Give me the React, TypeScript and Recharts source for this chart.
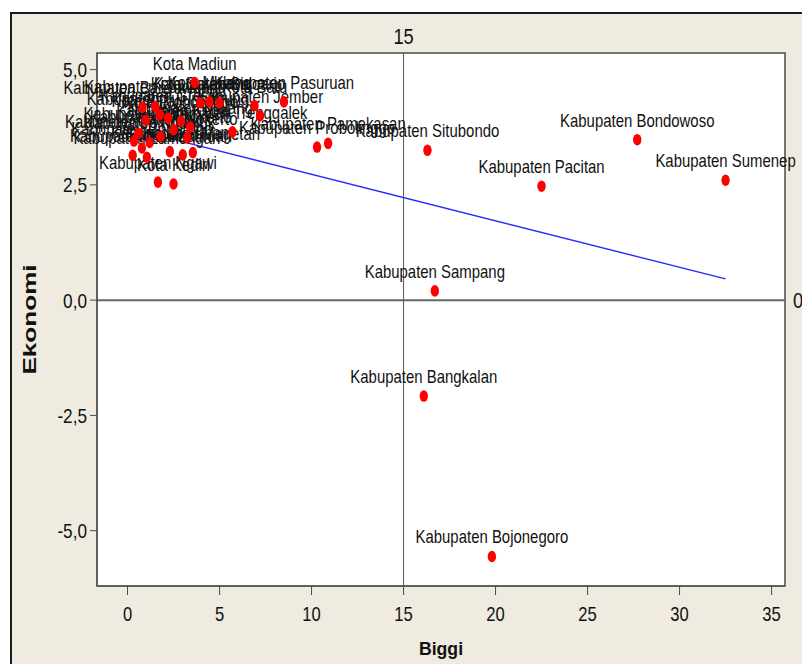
import React from "react";
import {
  ScatterChart,
  Scatter,
  XAxis,
  YAxis,
  CartesianGrid,
  ReferenceLine,
  ReferenceArea,
} from "recharts";

const regionNames = [
  "Kota Surabaya",
  "Kota Malang",
  "Kabupaten Sidoarjo",
  "Kabupaten Gresik",
  "Kabupaten Malang",
  "Kota Mojokerto",
  "Kota Blitar",
  "Kabupaten Banyuwangi",
  "Kabupaten Lumajang",
  "Kabupaten Tulungagung",
  "Kabupaten Blitar",
  "Kabupaten Kediri",
  "Kabupaten Mojokerto",
  "Kabupaten Jombang",
  "Kabupaten Nganjuk",
  "Kabupaten Madiun",
  "Kabupaten Ponorogo",
  "Kabupaten Lamongan",
  "Kabupaten Tuban",
  "Kota Pasuruan",
  "Kota Probolinggo",
  "Kota Batu",
  "Kota Madiun",
  "Kabupaten Magetan",
  "Kota Kediri",
  "Kabupaten Ngawi",
  "Kabupaten Trenggalek",
  "Kabupaten Jember",
  "Kabupaten Pasuruan",
  "Kabupaten Probolinggo",
  "Kabupaten Pamekasan",
  "Kabupaten Situbondo",
  "Kabupaten Sampang",
  "Kabupaten Bangkalan",
  "Kabupaten Bojonegoro",
  "Kabupaten Pacitan",
  "Kabupaten Bondowoso",
  "Kabupaten Sumenep",
];

const biggiValues = [
  3.95, 4.45, 5.0, 1.75, 3.4, 3.25, 1.0, 0.8, 1.5, 2.2, 0.6, 2.5, 1.8, 0.35,
  1.2, 0.28, 0.78, 1.05, 2.3, 3.0, 2.9, 6.9, 3.65, 3.55, 2.5, 1.65, 5.7, 7.2,
  8.5, 10.3, 10.9, 16.3, 16.7, 16.1, 19.8, 22.5, 27.7, 32.5,
];

const ekonomiValues = [
  4.28, 4.3, 4.28, 4.02, 3.75, 3.52, 3.9, 4.18, 4.2, 3.95, 3.62, 3.7, 3.55,
  3.45, 3.42, 3.14, 3.3, 3.1, 3.22, 3.15, 3.88, 4.22, 4.72, 3.2, 2.52, 2.56,
  3.65, 4.0, 4.3, 3.32, 3.4, 3.25, 0.2, -2.08, -5.56, 2.47, 3.48, 2.6,
];

const fitBiggi = [0.28, 32.5];
const fitEkonomi = [3.71, 0.46];

const xTicks = [0, 5, 10, 15, 20, 25, 30, 35];
const yTicks = [-5, -2.5, 0, 2.5, 5];

const points = regionNames.map((name, i) => ({
  name,
  biggi: biggiValues[i],
  ekonomi: ekonomiValues[i],
}));

const fitSegment = fitBiggi.map((x, i) => ({ x, y: fitEkonomi[i] }));

const FONT = "'Liberation Sans', Arial, sans-serif";
const TEXT = "#111111";

const fmtY = (v: number) => v.toFixed(1).replace(".", ",");

const XTick = (props: any) => {
  const { x, y, payload } = props;
  return (
    <text
      transform={`translate(${x},${y + 26}) scale(0.83,1)`}
      textAnchor="middle"
      fontSize={20}
      fontFamily={FONT}
      fill={TEXT}
    >
      {payload.value}
    </text>
  );
};

const YTick = (props: any) => {
  const { x, y, payload } = props;
  return (
    <text
      transform={`translate(${x},${y + 7.5}) scale(0.86,1)`}
      textAnchor="end"
      fontSize={20}
      fontFamily={FONT}
      fill={TEXT}
    >
      {fmtY(payload.value)}
    </text>
  );
};

const Dot = (props: any) => {
  const { cx, cy } = props;
  if (cx == null || cy == null) return null;
  return <ellipse cx={cx} cy={cy} rx={4.2} ry={5.8} fill="#ff0000" />;
};

const PointLabel = (props: any) => {
  const { cx, cy, payload } = props;
  if (cx == null || cy == null) return null;
  return (
    <text
      transform={`translate(${cx},${cy - 13}) scale(0.83,1)`}
      textAnchor="middle"
      fontSize={18}
      fontFamily={FONT}
      fill={TEXT}
    >
      {payload.name}
    </text>
  );
};

const TopLabel = (props: any) => {
  const vb = props.viewBox || {};
  return (
    <text
      transform={`translate(${vb.x},${vb.y - 9}) scale(0.83,1)`}
      textAnchor="middle"
      fontSize={22}
      fontFamily={FONT}
      fill={TEXT}
    >
      15
    </text>
  );
};

const RightLabel = (props: any) => {
  const vb = props.viewBox || {};
  return (
    <text
      transform={`translate(${vb.x + vb.width + 8},${vb.y + 8}) scale(0.83,1)`}
      textAnchor="start"
      fontSize={22}
      fontFamily={FONT}
      fill={TEXT}
    >
      0
    </text>
  );
};

export default function App() {
  return (
    <div
      style={{
        position: "absolute",
        left: 0,
        top: 0,
        width: 802,
        height: 664,
        overflow: "hidden",
        background: "#ffffff",
      }}
    >
      <div
        style={{
          position: "absolute",
          left: 10,
          top: 12,
          width: 820,
          height: 700,
          borderLeft: "2px solid #1a1a1a",
          borderTop: "2px solid #1a1a1a",
          background: "#EFEBE0",
        }}
      />
      <div style={{ position: "absolute", left: 0, top: 0 }}>
        <ScatterChart
          width={802}
          height={664}
          margin={{ top: 53, right: 17, bottom: 0, left: 0 }}
        >
          <CartesianGrid
            horizontal={false}
            vertical={false}
            fill="#ffffff"
            fillOpacity={1}
          />
          <XAxis
            type="number"
            dataKey="biggi"
            domain={[-1.66, 35.73]}
            ticks={xTicks}
            height={78}
            tickSize={9}
            tickMargin={0}
            tick={<XTick />}
            axisLine={{ stroke: "#4a4a4a" }}
            tickLine={{ stroke: "#4a4a4a" }}
            label={(p: any) => {
              const vb = p.viewBox || {};
              return (
                <text
                  transform={`translate(${vb.x + vb.width / 2},${655}) scale(0.93,1)`}
                  textAnchor="middle"
                  fontSize={19}
                  fontWeight="bold"
                  fontFamily={FONT}
                  fill={TEXT}
                >
                  Biggi
                </text>
              );
            }}
          />
          <YAxis
            type="number"
            dataKey="ekonomi"
            domain={[-6.2, 5.36]}
            ticks={yTicks}
            width={97}
            tickSize={7}
            tickMargin={3}
            tick={<YTick />}
            axisLine={{ stroke: "#4a4a4a" }}
            tickLine={{ stroke: "#4a4a4a" }}
            label={(p: any) => {
              const vb = p.viewBox || {};
              const cy = vb.y + vb.height / 2;
              return (
                <text
                  transform={`translate(36,${cy}) rotate(-90) scale(1.45,1)`}
                  textAnchor="middle"
                  fontSize={18}
                  fontWeight="bold"
                  fontFamily={FONT}
                  fill={TEXT}
                >
                  Ekonomi
                </text>
              );
            }}
          />
          <ReferenceArea
            x1={-1.66}
            x2={35.73}
            y1={-6.2}
            y2={5.36}
            fill="none"
            stroke="#4a4a4a"
            strokeWidth={1.5}
          />
          <ReferenceLine
            x={15}
            stroke="#555555"
            strokeWidth={1}
            label={<TopLabel />}
          />
          <ReferenceLine
            y={0}
            stroke="#666666"
            strokeWidth={2}
            label={<RightLabel />}
          />
          <ReferenceLine
            segment={fitSegment}
            stroke="#2a2aff"
            strokeWidth={1.4}
          />
          <Scatter
            data={points}
            shape={<PointLabel />}
            isAnimationActive={false}
          />
          <Scatter
            data={points}
            shape={<Dot />}
            isAnimationActive={false}
          />
        </ScatterChart>
      </div>
    </div>
  );
}
